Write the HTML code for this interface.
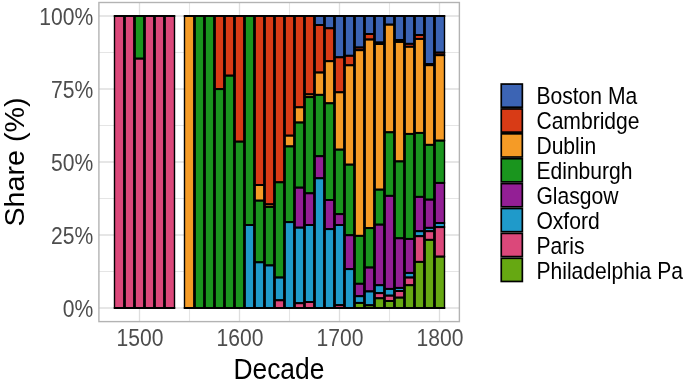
<!DOCTYPE html>
<html><head><meta charset="utf-8"><style>
html,body{margin:0;padding:0;background:#fff;width:685px;height:384px;overflow:hidden}
svg{display:block;font-family:"Liberation Sans",sans-serif;will-change:transform}
</style></head><body>
<svg width="685" height="384" viewBox="0 0 685 384">
<rect x="0" y="0" width="685" height="384" fill="#fff"/>
<line x1="98.9" x2="459.4" y1="271.50" y2="271.50" stroke="#E5E5E5" stroke-width="1.1"/>
<line x1="98.9" x2="459.4" y1="198.50" y2="198.50" stroke="#E5E5E5" stroke-width="1.1"/>
<line x1="98.9" x2="459.4" y1="125.50" y2="125.50" stroke="#E5E5E5" stroke-width="1.1"/>
<line x1="98.9" x2="459.4" y1="52.50" y2="52.50" stroke="#E5E5E5" stroke-width="1.1"/>
<line x1="189.50" x2="189.50" y1="2.5" y2="321.6" stroke="#E5E5E5" stroke-width="1.1"/>
<line x1="289.50" x2="289.50" y1="2.5" y2="321.6" stroke="#E5E5E5" stroke-width="1.1"/>
<line x1="389.50" x2="389.50" y1="2.5" y2="321.6" stroke="#E5E5E5" stroke-width="1.1"/>
<line x1="98.9" x2="459.4" y1="308.00" y2="308.00" stroke="#DEDEDE" stroke-width="1.3"/>
<line x1="98.9" x2="459.4" y1="235.00" y2="235.00" stroke="#DEDEDE" stroke-width="1.3"/>
<line x1="98.9" x2="459.4" y1="162.00" y2="162.00" stroke="#DEDEDE" stroke-width="1.3"/>
<line x1="98.9" x2="459.4" y1="89.00" y2="89.00" stroke="#DEDEDE" stroke-width="1.3"/>
<line x1="98.9" x2="459.4" y1="16.00" y2="16.00" stroke="#DEDEDE" stroke-width="1.3"/>
<line x1="139.50" x2="139.50" y1="2.5" y2="321.6" stroke="#DEDEDE" stroke-width="1.3"/>
<line x1="239.50" x2="239.50" y1="2.5" y2="321.6" stroke="#DEDEDE" stroke-width="1.3"/>
<line x1="339.50" x2="339.50" y1="2.5" y2="321.6" stroke="#DEDEDE" stroke-width="1.3"/>
<line x1="439.50" x2="439.50" y1="2.5" y2="321.6" stroke="#DEDEDE" stroke-width="1.3"/>
<rect x="114.50" y="16.00" width="10.0" height="292.00" fill="#DB487A" stroke="#000" stroke-width="1.4"/>
<line x1="113.80" x2="125.20" y1="16.00" y2="16.00" stroke="#000" stroke-width="2.0"/>
<line x1="113.80" x2="125.20" y1="308.00" y2="308.00" stroke="#000" stroke-width="2.0"/>
<rect x="124.50" y="16.00" width="10.0" height="292.00" fill="#DB487A" stroke="#000" stroke-width="1.4"/>
<line x1="123.80" x2="135.20" y1="16.00" y2="16.00" stroke="#000" stroke-width="2.0"/>
<line x1="123.80" x2="135.20" y1="308.00" y2="308.00" stroke="#000" stroke-width="2.0"/>
<rect x="134.50" y="16.00" width="10.0" height="42.60" fill="#1A951E" stroke="#000" stroke-width="1.4"/>
<rect x="134.50" y="58.60" width="10.0" height="249.40" fill="#DB487A" stroke="#000" stroke-width="1.4"/>
<line x1="133.80" x2="145.20" y1="16.00" y2="16.00" stroke="#000" stroke-width="2.0"/>
<line x1="133.80" x2="145.20" y1="308.00" y2="308.00" stroke="#000" stroke-width="2.0"/>
<line x1="134.50" x2="144.50" y1="58.60" y2="58.60" stroke="#000" stroke-width="2.0"/>
<rect x="144.50" y="16.00" width="10.0" height="292.00" fill="#DB487A" stroke="#000" stroke-width="1.4"/>
<line x1="143.80" x2="155.20" y1="16.00" y2="16.00" stroke="#000" stroke-width="2.0"/>
<line x1="143.80" x2="155.20" y1="308.00" y2="308.00" stroke="#000" stroke-width="2.0"/>
<rect x="154.50" y="16.00" width="10.0" height="292.00" fill="#DB487A" stroke="#000" stroke-width="1.4"/>
<line x1="153.80" x2="165.20" y1="16.00" y2="16.00" stroke="#000" stroke-width="2.0"/>
<line x1="153.80" x2="165.20" y1="308.00" y2="308.00" stroke="#000" stroke-width="2.0"/>
<rect x="164.50" y="16.00" width="10.0" height="292.00" fill="#DB487A" stroke="#000" stroke-width="1.4"/>
<line x1="163.80" x2="175.20" y1="16.00" y2="16.00" stroke="#000" stroke-width="2.0"/>
<line x1="163.80" x2="175.20" y1="308.00" y2="308.00" stroke="#000" stroke-width="2.0"/>
<rect x="184.50" y="16.00" width="10.0" height="292.00" fill="#F59B26" stroke="#000" stroke-width="1.4"/>
<line x1="183.80" x2="195.20" y1="16.00" y2="16.00" stroke="#000" stroke-width="2.0"/>
<line x1="183.80" x2="195.20" y1="308.00" y2="308.00" stroke="#000" stroke-width="2.0"/>
<rect x="194.50" y="16.00" width="10.0" height="292.00" fill="#1A951E" stroke="#000" stroke-width="1.4"/>
<line x1="193.80" x2="205.20" y1="16.00" y2="16.00" stroke="#000" stroke-width="2.0"/>
<line x1="193.80" x2="205.20" y1="308.00" y2="308.00" stroke="#000" stroke-width="2.0"/>
<rect x="204.50" y="16.00" width="10.0" height="292.00" fill="#1A951E" stroke="#000" stroke-width="1.4"/>
<line x1="203.80" x2="215.20" y1="16.00" y2="16.00" stroke="#000" stroke-width="2.0"/>
<line x1="203.80" x2="215.20" y1="308.00" y2="308.00" stroke="#000" stroke-width="2.0"/>
<rect x="214.50" y="16.00" width="10.0" height="73.10" fill="#D83B16" stroke="#000" stroke-width="1.4"/>
<rect x="214.50" y="89.10" width="10.0" height="218.90" fill="#1A951E" stroke="#000" stroke-width="1.4"/>
<line x1="213.80" x2="225.20" y1="16.00" y2="16.00" stroke="#000" stroke-width="2.0"/>
<line x1="213.80" x2="225.20" y1="308.00" y2="308.00" stroke="#000" stroke-width="2.0"/>
<line x1="214.50" x2="224.50" y1="89.10" y2="89.10" stroke="#000" stroke-width="2.0"/>
<rect x="224.50" y="16.00" width="10.0" height="59.60" fill="#D83B16" stroke="#000" stroke-width="1.4"/>
<rect x="224.50" y="75.60" width="10.0" height="232.40" fill="#1A951E" stroke="#000" stroke-width="1.4"/>
<line x1="223.80" x2="235.20" y1="16.00" y2="16.00" stroke="#000" stroke-width="2.0"/>
<line x1="223.80" x2="235.20" y1="308.00" y2="308.00" stroke="#000" stroke-width="2.0"/>
<line x1="224.50" x2="234.50" y1="75.60" y2="75.60" stroke="#000" stroke-width="2.0"/>
<rect x="234.50" y="16.00" width="10.0" height="125.60" fill="#D83B16" stroke="#000" stroke-width="1.4"/>
<rect x="234.50" y="141.60" width="10.0" height="166.40" fill="#1A951E" stroke="#000" stroke-width="1.4"/>
<line x1="233.80" x2="245.20" y1="16.00" y2="16.00" stroke="#000" stroke-width="2.0"/>
<line x1="233.80" x2="245.20" y1="308.00" y2="308.00" stroke="#000" stroke-width="2.0"/>
<line x1="234.50" x2="244.50" y1="141.60" y2="141.60" stroke="#000" stroke-width="2.0"/>
<rect x="244.50" y="16.00" width="10.0" height="209.00" fill="#1A951E" stroke="#000" stroke-width="1.4"/>
<rect x="244.50" y="225.00" width="10.0" height="83.00" fill="#1F9ACA" stroke="#000" stroke-width="1.4"/>
<line x1="243.80" x2="255.20" y1="16.00" y2="16.00" stroke="#000" stroke-width="2.0"/>
<line x1="243.80" x2="255.20" y1="308.00" y2="308.00" stroke="#000" stroke-width="2.0"/>
<line x1="244.50" x2="254.50" y1="225.00" y2="225.00" stroke="#000" stroke-width="2.0"/>
<rect x="254.50" y="16.00" width="10.0" height="169.00" fill="#D83B16" stroke="#000" stroke-width="1.4"/>
<rect x="254.50" y="185.00" width="10.0" height="15.60" fill="#F59B26" stroke="#000" stroke-width="1.4"/>
<rect x="254.50" y="200.60" width="10.0" height="61.70" fill="#1A951E" stroke="#000" stroke-width="1.4"/>
<rect x="254.50" y="262.30" width="10.0" height="45.70" fill="#1F9ACA" stroke="#000" stroke-width="1.4"/>
<line x1="253.80" x2="265.20" y1="16.00" y2="16.00" stroke="#000" stroke-width="2.0"/>
<line x1="253.80" x2="265.20" y1="308.00" y2="308.00" stroke="#000" stroke-width="2.0"/>
<line x1="254.50" x2="264.50" y1="185.00" y2="185.00" stroke="#000" stroke-width="2.0"/>
<line x1="254.50" x2="264.50" y1="200.60" y2="200.60" stroke="#000" stroke-width="2.0"/>
<line x1="254.50" x2="264.50" y1="262.30" y2="262.30" stroke="#000" stroke-width="2.0"/>
<rect x="264.50" y="16.00" width="10.0" height="188.35" fill="#D83B16" stroke="#000" stroke-width="1.4"/>
<rect x="264.50" y="204.35" width="10.0" height="2.50" fill="#F59B26" stroke="#000" stroke-width="1.4"/>
<rect x="264.50" y="206.85" width="10.0" height="58.55" fill="#1A951E" stroke="#000" stroke-width="1.4"/>
<rect x="264.50" y="265.40" width="10.0" height="42.60" fill="#1F9ACA" stroke="#000" stroke-width="1.4"/>
<line x1="263.80" x2="275.20" y1="16.00" y2="16.00" stroke="#000" stroke-width="2.0"/>
<line x1="263.80" x2="275.20" y1="308.00" y2="308.00" stroke="#000" stroke-width="2.0"/>
<line x1="264.50" x2="274.50" y1="204.35" y2="204.35" stroke="#000" stroke-width="2.0"/>
<line x1="264.50" x2="274.50" y1="206.85" y2="206.85" stroke="#000" stroke-width="2.0"/>
<line x1="264.50" x2="274.50" y1="265.40" y2="265.40" stroke="#000" stroke-width="2.0"/>
<rect x="274.50" y="16.00" width="10.0" height="166.30" fill="#D83B16" stroke="#000" stroke-width="1.4"/>
<rect x="274.50" y="182.30" width="10.0" height="95.20" fill="#1A951E" stroke="#000" stroke-width="1.4"/>
<rect x="274.50" y="277.50" width="10.0" height="22.80" fill="#1F9ACA" stroke="#000" stroke-width="1.4"/>
<rect x="274.50" y="300.30" width="10.0" height="7.70" fill="#DB487A" stroke="#000" stroke-width="1.4"/>
<line x1="273.80" x2="285.20" y1="16.00" y2="16.00" stroke="#000" stroke-width="2.0"/>
<line x1="273.80" x2="285.20" y1="308.00" y2="308.00" stroke="#000" stroke-width="2.0"/>
<line x1="274.50" x2="284.50" y1="182.30" y2="182.30" stroke="#000" stroke-width="2.0"/>
<line x1="274.50" x2="284.50" y1="277.50" y2="277.50" stroke="#000" stroke-width="2.0"/>
<line x1="274.50" x2="284.50" y1="300.30" y2="300.30" stroke="#000" stroke-width="2.0"/>
<rect x="284.50" y="16.00" width="10.0" height="119.60" fill="#D83B16" stroke="#000" stroke-width="1.4"/>
<rect x="284.50" y="135.60" width="10.0" height="10.80" fill="#F59B26" stroke="#000" stroke-width="1.4"/>
<rect x="284.50" y="146.40" width="10.0" height="75.70" fill="#1A951E" stroke="#000" stroke-width="1.4"/>
<rect x="284.50" y="222.10" width="10.0" height="85.90" fill="#1F9ACA" stroke="#000" stroke-width="1.4"/>
<line x1="283.80" x2="295.20" y1="16.00" y2="16.00" stroke="#000" stroke-width="2.0"/>
<line x1="283.80" x2="295.20" y1="308.00" y2="308.00" stroke="#000" stroke-width="2.0"/>
<line x1="284.50" x2="294.50" y1="135.60" y2="135.60" stroke="#000" stroke-width="2.0"/>
<line x1="284.50" x2="294.50" y1="146.40" y2="146.40" stroke="#000" stroke-width="2.0"/>
<line x1="284.50" x2="294.50" y1="222.10" y2="222.10" stroke="#000" stroke-width="2.0"/>
<rect x="294.50" y="16.00" width="10.0" height="91.30" fill="#D83B16" stroke="#000" stroke-width="1.4"/>
<rect x="294.50" y="107.30" width="10.0" height="15.20" fill="#F59B26" stroke="#000" stroke-width="1.4"/>
<rect x="294.50" y="122.50" width="10.0" height="65.10" fill="#1A951E" stroke="#000" stroke-width="1.4"/>
<rect x="294.50" y="187.60" width="10.0" height="40.00" fill="#931F95" stroke="#000" stroke-width="1.4"/>
<rect x="294.50" y="227.60" width="10.0" height="75.60" fill="#1F9ACA" stroke="#000" stroke-width="1.4"/>
<rect x="294.50" y="303.20" width="10.0" height="4.80" fill="#DB487A" stroke="#000" stroke-width="1.4"/>
<line x1="293.80" x2="305.20" y1="16.00" y2="16.00" stroke="#000" stroke-width="2.0"/>
<line x1="293.80" x2="305.20" y1="308.00" y2="308.00" stroke="#000" stroke-width="2.0"/>
<line x1="294.50" x2="304.50" y1="107.30" y2="107.30" stroke="#000" stroke-width="2.0"/>
<line x1="294.50" x2="304.50" y1="122.50" y2="122.50" stroke="#000" stroke-width="2.0"/>
<line x1="294.50" x2="304.50" y1="187.60" y2="187.60" stroke="#000" stroke-width="2.0"/>
<line x1="294.50" x2="304.50" y1="227.60" y2="227.60" stroke="#000" stroke-width="2.0"/>
<line x1="294.50" x2="304.50" y1="303.20" y2="303.20" stroke="#000" stroke-width="2.0"/>
<rect x="304.50" y="16.00" width="10.0" height="78.35" fill="#D83B16" stroke="#000" stroke-width="1.4"/>
<rect x="304.50" y="94.35" width="10.0" height="2.75" fill="#F59B26" stroke="#000" stroke-width="1.4"/>
<rect x="304.50" y="97.10" width="10.0" height="96.20" fill="#1A951E" stroke="#000" stroke-width="1.4"/>
<rect x="304.50" y="193.30" width="10.0" height="31.70" fill="#931F95" stroke="#000" stroke-width="1.4"/>
<rect x="304.50" y="225.00" width="10.0" height="77.00" fill="#1F9ACA" stroke="#000" stroke-width="1.4"/>
<rect x="304.50" y="302.00" width="10.0" height="6.00" fill="#DB487A" stroke="#000" stroke-width="1.4"/>
<line x1="303.80" x2="315.20" y1="16.00" y2="16.00" stroke="#000" stroke-width="2.0"/>
<line x1="303.80" x2="315.20" y1="308.00" y2="308.00" stroke="#000" stroke-width="2.0"/>
<line x1="304.50" x2="314.50" y1="94.35" y2="94.35" stroke="#000" stroke-width="2.0"/>
<line x1="304.50" x2="314.50" y1="97.10" y2="97.10" stroke="#000" stroke-width="2.0"/>
<line x1="304.50" x2="314.50" y1="193.30" y2="193.30" stroke="#000" stroke-width="2.0"/>
<line x1="304.50" x2="314.50" y1="225.00" y2="225.00" stroke="#000" stroke-width="2.0"/>
<line x1="304.50" x2="314.50" y1="302.00" y2="302.00" stroke="#000" stroke-width="2.0"/>
<rect x="314.50" y="16.00" width="10.0" height="9.00" fill="#3C64B4" stroke="#000" stroke-width="1.4"/>
<rect x="314.50" y="25.00" width="10.0" height="47.50" fill="#D83B16" stroke="#000" stroke-width="1.4"/>
<rect x="314.50" y="72.50" width="10.0" height="22.30" fill="#F59B26" stroke="#000" stroke-width="1.4"/>
<rect x="314.50" y="94.80" width="10.0" height="61.40" fill="#1A951E" stroke="#000" stroke-width="1.4"/>
<rect x="314.50" y="156.20" width="10.0" height="22.10" fill="#931F95" stroke="#000" stroke-width="1.4"/>
<rect x="314.50" y="178.30" width="10.0" height="129.70" fill="#1F9ACA" stroke="#000" stroke-width="1.4"/>
<line x1="313.80" x2="325.20" y1="16.00" y2="16.00" stroke="#000" stroke-width="2.0"/>
<line x1="313.80" x2="325.20" y1="308.00" y2="308.00" stroke="#000" stroke-width="2.0"/>
<line x1="314.50" x2="324.50" y1="25.00" y2="25.00" stroke="#000" stroke-width="2.0"/>
<line x1="314.50" x2="324.50" y1="72.50" y2="72.50" stroke="#000" stroke-width="2.0"/>
<line x1="314.50" x2="324.50" y1="94.80" y2="94.80" stroke="#000" stroke-width="2.0"/>
<line x1="314.50" x2="324.50" y1="156.20" y2="156.20" stroke="#000" stroke-width="2.0"/>
<line x1="314.50" x2="324.50" y1="178.30" y2="178.30" stroke="#000" stroke-width="2.0"/>
<rect x="324.50" y="16.00" width="10.0" height="12.30" fill="#3C64B4" stroke="#000" stroke-width="1.4"/>
<rect x="324.50" y="28.30" width="10.0" height="32.90" fill="#D83B16" stroke="#000" stroke-width="1.4"/>
<rect x="324.50" y="61.20" width="10.0" height="42.10" fill="#F59B26" stroke="#000" stroke-width="1.4"/>
<rect x="324.50" y="103.30" width="10.0" height="96.70" fill="#1A951E" stroke="#000" stroke-width="1.4"/>
<rect x="324.50" y="200.00" width="10.0" height="29.10" fill="#931F95" stroke="#000" stroke-width="1.4"/>
<rect x="324.50" y="229.10" width="10.0" height="78.90" fill="#1F9ACA" stroke="#000" stroke-width="1.4"/>
<line x1="323.80" x2="335.20" y1="16.00" y2="16.00" stroke="#000" stroke-width="2.0"/>
<line x1="323.80" x2="335.20" y1="308.00" y2="308.00" stroke="#000" stroke-width="2.0"/>
<line x1="324.50" x2="334.50" y1="28.30" y2="28.30" stroke="#000" stroke-width="2.0"/>
<line x1="324.50" x2="334.50" y1="61.20" y2="61.20" stroke="#000" stroke-width="2.0"/>
<line x1="324.50" x2="334.50" y1="103.30" y2="103.30" stroke="#000" stroke-width="2.0"/>
<line x1="324.50" x2="334.50" y1="200.00" y2="200.00" stroke="#000" stroke-width="2.0"/>
<line x1="324.50" x2="334.50" y1="229.10" y2="229.10" stroke="#000" stroke-width="2.0"/>
<rect x="334.50" y="16.00" width="10.0" height="41.30" fill="#3C64B4" stroke="#000" stroke-width="1.4"/>
<rect x="334.50" y="57.30" width="10.0" height="35.00" fill="#D83B16" stroke="#000" stroke-width="1.4"/>
<rect x="334.50" y="92.30" width="10.0" height="57.30" fill="#F59B26" stroke="#000" stroke-width="1.4"/>
<rect x="334.50" y="149.60" width="10.0" height="64.50" fill="#1A951E" stroke="#000" stroke-width="1.4"/>
<rect x="334.50" y="214.10" width="10.0" height="10.90" fill="#931F95" stroke="#000" stroke-width="1.4"/>
<rect x="334.50" y="225.00" width="10.0" height="80.20" fill="#1F9ACA" stroke="#000" stroke-width="1.4"/>
<rect x="334.50" y="305.20" width="10.0" height="2.80" fill="#DB487A" stroke="#000" stroke-width="1.4"/>
<line x1="333.80" x2="345.20" y1="16.00" y2="16.00" stroke="#000" stroke-width="2.0"/>
<line x1="333.80" x2="345.20" y1="308.00" y2="308.00" stroke="#000" stroke-width="2.0"/>
<line x1="334.50" x2="344.50" y1="57.30" y2="57.30" stroke="#000" stroke-width="2.0"/>
<line x1="334.50" x2="344.50" y1="92.30" y2="92.30" stroke="#000" stroke-width="2.0"/>
<line x1="334.50" x2="344.50" y1="149.60" y2="149.60" stroke="#000" stroke-width="2.0"/>
<line x1="334.50" x2="344.50" y1="214.10" y2="214.10" stroke="#000" stroke-width="2.0"/>
<line x1="334.50" x2="344.50" y1="225.00" y2="225.00" stroke="#000" stroke-width="2.0"/>
<line x1="334.50" x2="344.50" y1="305.20" y2="305.20" stroke="#000" stroke-width="2.0"/>
<rect x="344.50" y="16.00" width="10.0" height="39.70" fill="#3C64B4" stroke="#000" stroke-width="1.4"/>
<rect x="344.50" y="55.70" width="10.0" height="9.60" fill="#D83B16" stroke="#000" stroke-width="1.4"/>
<rect x="344.50" y="65.30" width="10.0" height="99.30" fill="#F59B26" stroke="#000" stroke-width="1.4"/>
<rect x="344.50" y="164.60" width="10.0" height="70.60" fill="#1A951E" stroke="#000" stroke-width="1.4"/>
<rect x="344.50" y="235.20" width="10.0" height="33.90" fill="#931F95" stroke="#000" stroke-width="1.4"/>
<rect x="344.50" y="269.10" width="10.0" height="38.90" fill="#1F9ACA" stroke="#000" stroke-width="1.4"/>
<line x1="343.80" x2="355.20" y1="16.00" y2="16.00" stroke="#000" stroke-width="2.0"/>
<line x1="343.80" x2="355.20" y1="308.00" y2="308.00" stroke="#000" stroke-width="2.0"/>
<line x1="344.50" x2="354.50" y1="55.70" y2="55.70" stroke="#000" stroke-width="2.0"/>
<line x1="344.50" x2="354.50" y1="65.30" y2="65.30" stroke="#000" stroke-width="2.0"/>
<line x1="344.50" x2="354.50" y1="164.60" y2="164.60" stroke="#000" stroke-width="2.0"/>
<line x1="344.50" x2="354.50" y1="235.20" y2="235.20" stroke="#000" stroke-width="2.0"/>
<line x1="344.50" x2="354.50" y1="269.10" y2="269.10" stroke="#000" stroke-width="2.0"/>
<rect x="354.50" y="16.00" width="10.0" height="31.50" fill="#3C64B4" stroke="#000" stroke-width="1.4"/>
<rect x="354.50" y="47.50" width="10.0" height="2.70" fill="#D83B16" stroke="#000" stroke-width="1.4"/>
<rect x="354.50" y="50.20" width="10.0" height="185.60" fill="#F59B26" stroke="#000" stroke-width="1.4"/>
<rect x="354.50" y="235.80" width="10.0" height="47.90" fill="#1A951E" stroke="#000" stroke-width="1.4"/>
<rect x="354.50" y="283.70" width="10.0" height="12.50" fill="#931F95" stroke="#000" stroke-width="1.4"/>
<rect x="354.50" y="296.20" width="10.0" height="6.70" fill="#1F9ACA" stroke="#000" stroke-width="1.4"/>
<rect x="354.50" y="302.90" width="10.0" height="5.10" fill="#66A812" stroke="#000" stroke-width="1.4"/>
<line x1="353.80" x2="365.20" y1="16.00" y2="16.00" stroke="#000" stroke-width="2.0"/>
<line x1="353.80" x2="365.20" y1="308.00" y2="308.00" stroke="#000" stroke-width="2.0"/>
<line x1="354.50" x2="364.50" y1="47.50" y2="47.50" stroke="#000" stroke-width="2.0"/>
<line x1="354.50" x2="364.50" y1="50.20" y2="50.20" stroke="#000" stroke-width="2.0"/>
<line x1="354.50" x2="364.50" y1="235.80" y2="235.80" stroke="#000" stroke-width="2.0"/>
<line x1="354.50" x2="364.50" y1="283.70" y2="283.70" stroke="#000" stroke-width="2.0"/>
<line x1="354.50" x2="364.50" y1="296.20" y2="296.20" stroke="#000" stroke-width="2.0"/>
<line x1="354.50" x2="364.50" y1="302.90" y2="302.90" stroke="#000" stroke-width="2.0"/>
<rect x="364.50" y="16.00" width="10.0" height="18.00" fill="#3C64B4" stroke="#000" stroke-width="1.4"/>
<rect x="364.50" y="34.00" width="10.0" height="5.50" fill="#D83B16" stroke="#000" stroke-width="1.4"/>
<rect x="364.50" y="39.50" width="10.0" height="188.60" fill="#F59B26" stroke="#000" stroke-width="1.4"/>
<rect x="364.50" y="228.10" width="10.0" height="39.40" fill="#1A951E" stroke="#000" stroke-width="1.4"/>
<rect x="364.50" y="267.50" width="10.0" height="23.90" fill="#931F95" stroke="#000" stroke-width="1.4"/>
<rect x="364.50" y="291.40" width="10.0" height="13.90" fill="#1F9ACA" stroke="#000" stroke-width="1.4"/>
<rect x="364.50" y="305.30" width="10.0" height="2.70" fill="#66A812" stroke="#000" stroke-width="1.4"/>
<line x1="363.80" x2="375.20" y1="16.00" y2="16.00" stroke="#000" stroke-width="2.0"/>
<line x1="363.80" x2="375.20" y1="308.00" y2="308.00" stroke="#000" stroke-width="2.0"/>
<line x1="364.50" x2="374.50" y1="34.00" y2="34.00" stroke="#000" stroke-width="2.0"/>
<line x1="364.50" x2="374.50" y1="39.50" y2="39.50" stroke="#000" stroke-width="2.0"/>
<line x1="364.50" x2="374.50" y1="228.10" y2="228.10" stroke="#000" stroke-width="2.0"/>
<line x1="364.50" x2="374.50" y1="267.50" y2="267.50" stroke="#000" stroke-width="2.0"/>
<line x1="364.50" x2="374.50" y1="291.40" y2="291.40" stroke="#000" stroke-width="2.0"/>
<line x1="364.50" x2="374.50" y1="305.30" y2="305.30" stroke="#000" stroke-width="2.0"/>
<rect x="374.50" y="16.00" width="10.0" height="26.50" fill="#3C64B4" stroke="#000" stroke-width="1.4"/>
<rect x="374.50" y="42.50" width="10.0" height="1.50" fill="#D83B16" stroke="#000" stroke-width="1.4"/>
<rect x="374.50" y="44.00" width="10.0" height="145.60" fill="#F59B26" stroke="#000" stroke-width="1.4"/>
<rect x="374.50" y="189.60" width="10.0" height="35.00" fill="#1A951E" stroke="#000" stroke-width="1.4"/>
<rect x="374.50" y="224.60" width="10.0" height="60.60" fill="#931F95" stroke="#000" stroke-width="1.4"/>
<rect x="374.50" y="285.20" width="10.0" height="7.90" fill="#1F9ACA" stroke="#000" stroke-width="1.4"/>
<rect x="374.50" y="293.10" width="10.0" height="5.20" fill="#DB487A" stroke="#000" stroke-width="1.4"/>
<rect x="374.50" y="298.30" width="10.0" height="9.70" fill="#66A812" stroke="#000" stroke-width="1.4"/>
<line x1="373.80" x2="385.20" y1="16.00" y2="16.00" stroke="#000" stroke-width="2.0"/>
<line x1="373.80" x2="385.20" y1="308.00" y2="308.00" stroke="#000" stroke-width="2.0"/>
<line x1="374.50" x2="384.50" y1="42.50" y2="42.50" stroke="#000" stroke-width="2.0"/>
<line x1="374.50" x2="384.50" y1="44.00" y2="44.00" stroke="#000" stroke-width="2.0"/>
<line x1="374.50" x2="384.50" y1="189.60" y2="189.60" stroke="#000" stroke-width="2.0"/>
<line x1="374.50" x2="384.50" y1="224.60" y2="224.60" stroke="#000" stroke-width="2.0"/>
<line x1="374.50" x2="384.50" y1="285.20" y2="285.20" stroke="#000" stroke-width="2.0"/>
<line x1="374.50" x2="384.50" y1="293.10" y2="293.10" stroke="#000" stroke-width="2.0"/>
<line x1="374.50" x2="384.50" y1="298.30" y2="298.30" stroke="#000" stroke-width="2.0"/>
<rect x="384.50" y="16.00" width="10.0" height="8.60" fill="#3C64B4" stroke="#000" stroke-width="1.4"/>
<rect x="384.50" y="24.60" width="10.0" height="107.70" fill="#F59B26" stroke="#000" stroke-width="1.4"/>
<rect x="384.50" y="132.30" width="10.0" height="63.50" fill="#1A951E" stroke="#000" stroke-width="1.4"/>
<rect x="384.50" y="195.80" width="10.0" height="93.10" fill="#931F95" stroke="#000" stroke-width="1.4"/>
<rect x="384.50" y="288.90" width="10.0" height="6.70" fill="#1F9ACA" stroke="#000" stroke-width="1.4"/>
<rect x="384.50" y="295.60" width="10.0" height="5.40" fill="#DB487A" stroke="#000" stroke-width="1.4"/>
<rect x="384.50" y="301.00" width="10.0" height="7.00" fill="#66A812" stroke="#000" stroke-width="1.4"/>
<line x1="383.80" x2="395.20" y1="16.00" y2="16.00" stroke="#000" stroke-width="2.0"/>
<line x1="383.80" x2="395.20" y1="308.00" y2="308.00" stroke="#000" stroke-width="2.0"/>
<line x1="384.50" x2="394.50" y1="24.60" y2="24.60" stroke="#000" stroke-width="2.0"/>
<line x1="384.50" x2="394.50" y1="132.30" y2="132.30" stroke="#000" stroke-width="2.0"/>
<line x1="384.50" x2="394.50" y1="195.80" y2="195.80" stroke="#000" stroke-width="2.0"/>
<line x1="384.50" x2="394.50" y1="288.90" y2="288.90" stroke="#000" stroke-width="2.0"/>
<line x1="384.50" x2="394.50" y1="295.60" y2="295.60" stroke="#000" stroke-width="2.0"/>
<line x1="384.50" x2="394.50" y1="301.00" y2="301.00" stroke="#000" stroke-width="2.0"/>
<rect x="394.50" y="16.00" width="10.0" height="24.00" fill="#3C64B4" stroke="#000" stroke-width="1.4"/>
<rect x="394.50" y="40.00" width="10.0" height="1.90" fill="#D83B16" stroke="#000" stroke-width="1.4"/>
<rect x="394.50" y="41.90" width="10.0" height="119.50" fill="#F59B26" stroke="#000" stroke-width="1.4"/>
<rect x="394.50" y="161.40" width="10.0" height="76.90" fill="#1A951E" stroke="#000" stroke-width="1.4"/>
<rect x="394.50" y="238.30" width="10.0" height="49.60" fill="#931F95" stroke="#000" stroke-width="1.4"/>
<rect x="394.50" y="287.90" width="10.0" height="3.10" fill="#1F9ACA" stroke="#000" stroke-width="1.4"/>
<rect x="394.50" y="291.00" width="10.0" height="6.60" fill="#DB487A" stroke="#000" stroke-width="1.4"/>
<rect x="394.50" y="297.60" width="10.0" height="10.40" fill="#66A812" stroke="#000" stroke-width="1.4"/>
<line x1="393.80" x2="405.20" y1="16.00" y2="16.00" stroke="#000" stroke-width="2.0"/>
<line x1="393.80" x2="405.20" y1="308.00" y2="308.00" stroke="#000" stroke-width="2.0"/>
<line x1="394.50" x2="404.50" y1="40.00" y2="40.00" stroke="#000" stroke-width="2.0"/>
<line x1="394.50" x2="404.50" y1="41.90" y2="41.90" stroke="#000" stroke-width="2.0"/>
<line x1="394.50" x2="404.50" y1="161.40" y2="161.40" stroke="#000" stroke-width="2.0"/>
<line x1="394.50" x2="404.50" y1="238.30" y2="238.30" stroke="#000" stroke-width="2.0"/>
<line x1="394.50" x2="404.50" y1="287.90" y2="287.90" stroke="#000" stroke-width="2.0"/>
<line x1="394.50" x2="404.50" y1="291.00" y2="291.00" stroke="#000" stroke-width="2.0"/>
<line x1="394.50" x2="404.50" y1="297.60" y2="297.60" stroke="#000" stroke-width="2.0"/>
<rect x="404.50" y="16.00" width="10.0" height="27.80" fill="#3C64B4" stroke="#000" stroke-width="1.4"/>
<rect x="404.50" y="43.80" width="10.0" height="2.90" fill="#D83B16" stroke="#000" stroke-width="1.4"/>
<rect x="404.50" y="46.70" width="10.0" height="87.20" fill="#F59B26" stroke="#000" stroke-width="1.4"/>
<rect x="404.50" y="133.90" width="10.0" height="105.00" fill="#1A951E" stroke="#000" stroke-width="1.4"/>
<rect x="404.50" y="238.90" width="10.0" height="34.00" fill="#931F95" stroke="#000" stroke-width="1.4"/>
<rect x="404.50" y="272.90" width="10.0" height="4.60" fill="#1F9ACA" stroke="#000" stroke-width="1.4"/>
<rect x="404.50" y="277.50" width="10.0" height="7.70" fill="#DB487A" stroke="#000" stroke-width="1.4"/>
<rect x="404.50" y="285.20" width="10.0" height="22.80" fill="#66A812" stroke="#000" stroke-width="1.4"/>
<line x1="403.80" x2="415.20" y1="16.00" y2="16.00" stroke="#000" stroke-width="2.0"/>
<line x1="403.80" x2="415.20" y1="308.00" y2="308.00" stroke="#000" stroke-width="2.0"/>
<line x1="404.50" x2="414.50" y1="43.80" y2="43.80" stroke="#000" stroke-width="2.0"/>
<line x1="404.50" x2="414.50" y1="46.70" y2="46.70" stroke="#000" stroke-width="2.0"/>
<line x1="404.50" x2="414.50" y1="133.90" y2="133.90" stroke="#000" stroke-width="2.0"/>
<line x1="404.50" x2="414.50" y1="238.90" y2="238.90" stroke="#000" stroke-width="2.0"/>
<line x1="404.50" x2="414.50" y1="272.90" y2="272.90" stroke="#000" stroke-width="2.0"/>
<line x1="404.50" x2="414.50" y1="277.50" y2="277.50" stroke="#000" stroke-width="2.0"/>
<line x1="404.50" x2="414.50" y1="285.20" y2="285.20" stroke="#000" stroke-width="2.0"/>
<rect x="414.50" y="16.00" width="10.0" height="19.00" fill="#3C64B4" stroke="#000" stroke-width="1.4"/>
<rect x="414.50" y="35.00" width="10.0" height="3.90" fill="#D83B16" stroke="#000" stroke-width="1.4"/>
<rect x="414.50" y="38.90" width="10.0" height="94.00" fill="#F59B26" stroke="#000" stroke-width="1.4"/>
<rect x="414.50" y="132.90" width="10.0" height="63.95" fill="#1A951E" stroke="#000" stroke-width="1.4"/>
<rect x="414.50" y="196.85" width="10.0" height="34.35" fill="#931F95" stroke="#000" stroke-width="1.4"/>
<rect x="414.50" y="231.20" width="10.0" height="5.00" fill="#1F9ACA" stroke="#000" stroke-width="1.4"/>
<rect x="414.50" y="236.20" width="10.0" height="25.65" fill="#DB487A" stroke="#000" stroke-width="1.4"/>
<rect x="414.50" y="261.85" width="10.0" height="46.15" fill="#66A812" stroke="#000" stroke-width="1.4"/>
<line x1="413.80" x2="425.20" y1="16.00" y2="16.00" stroke="#000" stroke-width="2.0"/>
<line x1="413.80" x2="425.20" y1="308.00" y2="308.00" stroke="#000" stroke-width="2.0"/>
<line x1="414.50" x2="424.50" y1="35.00" y2="35.00" stroke="#000" stroke-width="2.0"/>
<line x1="414.50" x2="424.50" y1="38.90" y2="38.90" stroke="#000" stroke-width="2.0"/>
<line x1="414.50" x2="424.50" y1="132.90" y2="132.90" stroke="#000" stroke-width="2.0"/>
<line x1="414.50" x2="424.50" y1="196.85" y2="196.85" stroke="#000" stroke-width="2.0"/>
<line x1="414.50" x2="424.50" y1="231.20" y2="231.20" stroke="#000" stroke-width="2.0"/>
<line x1="414.50" x2="424.50" y1="236.20" y2="236.20" stroke="#000" stroke-width="2.0"/>
<line x1="414.50" x2="424.50" y1="261.85" y2="261.85" stroke="#000" stroke-width="2.0"/>
<rect x="424.50" y="16.00" width="10.0" height="48.00" fill="#3C64B4" stroke="#000" stroke-width="1.4"/>
<rect x="424.50" y="64.00" width="10.0" height="1.20" fill="#D83B16" stroke="#000" stroke-width="1.4"/>
<rect x="424.50" y="65.20" width="10.0" height="79.60" fill="#F59B26" stroke="#000" stroke-width="1.4"/>
<rect x="424.50" y="144.80" width="10.0" height="54.80" fill="#1A951E" stroke="#000" stroke-width="1.4"/>
<rect x="424.50" y="199.60" width="10.0" height="28.20" fill="#931F95" stroke="#000" stroke-width="1.4"/>
<rect x="424.50" y="227.80" width="10.0" height="3.40" fill="#1F9ACA" stroke="#000" stroke-width="1.4"/>
<rect x="424.50" y="231.20" width="10.0" height="8.60" fill="#DB487A" stroke="#000" stroke-width="1.4"/>
<rect x="424.50" y="239.80" width="10.0" height="68.20" fill="#66A812" stroke="#000" stroke-width="1.4"/>
<line x1="423.80" x2="435.20" y1="16.00" y2="16.00" stroke="#000" stroke-width="2.0"/>
<line x1="423.80" x2="435.20" y1="308.00" y2="308.00" stroke="#000" stroke-width="2.0"/>
<line x1="424.50" x2="434.50" y1="64.00" y2="64.00" stroke="#000" stroke-width="2.0"/>
<line x1="424.50" x2="434.50" y1="65.20" y2="65.20" stroke="#000" stroke-width="2.0"/>
<line x1="424.50" x2="434.50" y1="144.80" y2="144.80" stroke="#000" stroke-width="2.0"/>
<line x1="424.50" x2="434.50" y1="199.60" y2="199.60" stroke="#000" stroke-width="2.0"/>
<line x1="424.50" x2="434.50" y1="227.80" y2="227.80" stroke="#000" stroke-width="2.0"/>
<line x1="424.50" x2="434.50" y1="231.20" y2="231.20" stroke="#000" stroke-width="2.0"/>
<line x1="424.50" x2="434.50" y1="239.80" y2="239.80" stroke="#000" stroke-width="2.0"/>
<rect x="434.50" y="16.00" width="10.0" height="36.60" fill="#3C64B4" stroke="#000" stroke-width="1.4"/>
<rect x="434.50" y="52.60" width="10.0" height="2.60" fill="#D83B16" stroke="#000" stroke-width="1.4"/>
<rect x="434.50" y="55.20" width="10.0" height="85.40" fill="#F59B26" stroke="#000" stroke-width="1.4"/>
<rect x="434.50" y="140.60" width="10.0" height="42.30" fill="#1A951E" stroke="#000" stroke-width="1.4"/>
<rect x="434.50" y="182.90" width="10.0" height="40.10" fill="#931F95" stroke="#000" stroke-width="1.4"/>
<rect x="434.50" y="223.00" width="10.0" height="4.10" fill="#1F9ACA" stroke="#000" stroke-width="1.4"/>
<rect x="434.50" y="227.10" width="10.0" height="29.50" fill="#DB487A" stroke="#000" stroke-width="1.4"/>
<rect x="434.50" y="256.60" width="10.0" height="51.40" fill="#66A812" stroke="#000" stroke-width="1.4"/>
<line x1="433.80" x2="445.20" y1="16.00" y2="16.00" stroke="#000" stroke-width="2.0"/>
<line x1="433.80" x2="445.20" y1="308.00" y2="308.00" stroke="#000" stroke-width="2.0"/>
<line x1="434.50" x2="444.50" y1="52.60" y2="52.60" stroke="#000" stroke-width="2.0"/>
<line x1="434.50" x2="444.50" y1="55.20" y2="55.20" stroke="#000" stroke-width="2.0"/>
<line x1="434.50" x2="444.50" y1="140.60" y2="140.60" stroke="#000" stroke-width="2.0"/>
<line x1="434.50" x2="444.50" y1="182.90" y2="182.90" stroke="#000" stroke-width="2.0"/>
<line x1="434.50" x2="444.50" y1="223.00" y2="223.00" stroke="#000" stroke-width="2.0"/>
<line x1="434.50" x2="444.50" y1="227.10" y2="227.10" stroke="#000" stroke-width="2.0"/>
<line x1="434.50" x2="444.50" y1="256.60" y2="256.60" stroke="#000" stroke-width="2.0"/>
<line x1="124.50" x2="124.50" y1="15.00" y2="309.00" stroke="#000" stroke-width="2.7"/>
<line x1="134.50" x2="134.50" y1="15.00" y2="309.00" stroke="#000" stroke-width="2.7"/>
<line x1="144.50" x2="144.50" y1="15.00" y2="309.00" stroke="#000" stroke-width="2.7"/>
<line x1="154.50" x2="154.50" y1="15.00" y2="309.00" stroke="#000" stroke-width="2.7"/>
<line x1="164.50" x2="164.50" y1="15.00" y2="309.00" stroke="#000" stroke-width="2.7"/>
<line x1="194.50" x2="194.50" y1="15.00" y2="309.00" stroke="#000" stroke-width="2.7"/>
<line x1="204.50" x2="204.50" y1="15.00" y2="309.00" stroke="#000" stroke-width="2.7"/>
<line x1="214.50" x2="214.50" y1="15.00" y2="309.00" stroke="#000" stroke-width="2.7"/>
<line x1="224.50" x2="224.50" y1="15.00" y2="309.00" stroke="#000" stroke-width="2.7"/>
<line x1="234.50" x2="234.50" y1="15.00" y2="309.00" stroke="#000" stroke-width="2.7"/>
<line x1="244.50" x2="244.50" y1="15.00" y2="309.00" stroke="#000" stroke-width="2.7"/>
<line x1="254.50" x2="254.50" y1="15.00" y2="309.00" stroke="#000" stroke-width="2.7"/>
<line x1="264.50" x2="264.50" y1="15.00" y2="309.00" stroke="#000" stroke-width="2.7"/>
<line x1="274.50" x2="274.50" y1="15.00" y2="309.00" stroke="#000" stroke-width="2.7"/>
<line x1="284.50" x2="284.50" y1="15.00" y2="309.00" stroke="#000" stroke-width="2.7"/>
<line x1="294.50" x2="294.50" y1="15.00" y2="309.00" stroke="#000" stroke-width="2.7"/>
<line x1="304.50" x2="304.50" y1="15.00" y2="309.00" stroke="#000" stroke-width="2.7"/>
<line x1="314.50" x2="314.50" y1="15.00" y2="309.00" stroke="#000" stroke-width="2.7"/>
<line x1="324.50" x2="324.50" y1="15.00" y2="309.00" stroke="#000" stroke-width="2.7"/>
<line x1="334.50" x2="334.50" y1="15.00" y2="309.00" stroke="#000" stroke-width="2.7"/>
<line x1="344.50" x2="344.50" y1="15.00" y2="309.00" stroke="#000" stroke-width="2.7"/>
<line x1="354.50" x2="354.50" y1="15.00" y2="309.00" stroke="#000" stroke-width="2.7"/>
<line x1="364.50" x2="364.50" y1="15.00" y2="309.00" stroke="#000" stroke-width="2.7"/>
<line x1="374.50" x2="374.50" y1="15.00" y2="309.00" stroke="#000" stroke-width="2.7"/>
<line x1="384.50" x2="384.50" y1="15.00" y2="309.00" stroke="#000" stroke-width="2.7"/>
<line x1="394.50" x2="394.50" y1="15.00" y2="309.00" stroke="#000" stroke-width="2.7"/>
<line x1="404.50" x2="404.50" y1="15.00" y2="309.00" stroke="#000" stroke-width="2.7"/>
<line x1="414.50" x2="414.50" y1="15.00" y2="309.00" stroke="#000" stroke-width="2.7"/>
<line x1="424.50" x2="424.50" y1="15.00" y2="309.00" stroke="#000" stroke-width="2.7"/>
<line x1="434.50" x2="434.50" y1="15.00" y2="309.00" stroke="#000" stroke-width="2.7"/>
<rect x="98.9" y="2.5" width="360.50" height="319.10" fill="none" stroke="#B3B3B3" stroke-width="1.4"/>
<text transform="translate(93.2,25.40) scale(1,1.1)" text-anchor="end" font-size="21.1" fill="#4D4D4D">100%</text>
<text transform="translate(93.2,98.40) scale(1,1.1)" text-anchor="end" font-size="21.1" fill="#4D4D4D">75%</text>
<text transform="translate(93.2,171.40) scale(1,1.1)" text-anchor="end" font-size="21.1" fill="#4D4D4D">50%</text>
<text transform="translate(93.2,244.40) scale(1,1.1)" text-anchor="end" font-size="21.1" fill="#4D4D4D">25%</text>
<text transform="translate(93.2,317.40) scale(1,1.1)" text-anchor="end" font-size="21.1" fill="#4D4D4D">0%</text>
<text transform="translate(139.90,345.9) scale(1,1.1)" text-anchor="middle" font-size="21.1" fill="#4D4D4D">1500</text>
<text transform="translate(239.90,345.9) scale(1,1.1)" text-anchor="middle" font-size="21.1" fill="#4D4D4D">1600</text>
<text transform="translate(339.90,345.9) scale(1,1.1)" text-anchor="middle" font-size="21.1" fill="#4D4D4D">1700</text>
<text transform="translate(439.90,345.9) scale(1,1.1)" text-anchor="middle" font-size="21.1" fill="#4D4D4D">1800</text>
<text transform="translate(278.9,379.3) scale(1,1.1)" text-anchor="middle" font-size="26.4" fill="#000">Decade</text>
<text transform="translate(23.6,162.0) scale(1,1.05) rotate(-90)" text-anchor="middle" font-size="27.3" fill="#000">Share (%)</text>
<rect x="501.25" y="84.05" width="21.10" height="23.19" fill="#3C64B4" stroke="#000" stroke-width="1.7"/>
<text transform="translate(536.4,103.80) scale(1,1.1)" font-size="21.1" fill="#000">Boston Ma</text>
<rect x="501.25" y="108.94" width="21.10" height="23.19" fill="#D83B16" stroke="#000" stroke-width="1.7"/>
<text transform="translate(536.4,128.88) scale(1,1.1)" font-size="21.1" fill="#000">Cambridge</text>
<rect x="501.25" y="133.83" width="21.10" height="23.19" fill="#F59B26" stroke="#000" stroke-width="1.7"/>
<text transform="translate(536.4,153.96) scale(1,1.1)" font-size="21.1" fill="#000">Dublin</text>
<rect x="501.25" y="158.72" width="21.10" height="23.19" fill="#1A951E" stroke="#000" stroke-width="1.7"/>
<text transform="translate(536.4,179.04) scale(1,1.1)" font-size="21.1" fill="#000">Edinburgh</text>
<rect x="501.25" y="183.61" width="21.10" height="23.19" fill="#931F95" stroke="#000" stroke-width="1.7"/>
<text transform="translate(536.4,204.12) scale(1,1.1)" font-size="21.1" fill="#000">Glasgow</text>
<rect x="501.25" y="208.50" width="21.10" height="23.19" fill="#1F9ACA" stroke="#000" stroke-width="1.7"/>
<text transform="translate(536.4,229.20) scale(1,1.1)" font-size="21.1" fill="#000">Oxford</text>
<rect x="501.25" y="233.39" width="21.10" height="23.19" fill="#DB487A" stroke="#000" stroke-width="1.7"/>
<text transform="translate(536.4,254.28) scale(1,1.1)" font-size="21.1" fill="#000">Paris</text>
<rect x="501.25" y="258.28" width="21.10" height="23.19" fill="#66A812" stroke="#000" stroke-width="1.7"/>
<text transform="translate(536.4,279.36) scale(1,1.1)" font-size="21.1" fill="#000">Philadelphia Pa</text>
</svg>
</body></html>
